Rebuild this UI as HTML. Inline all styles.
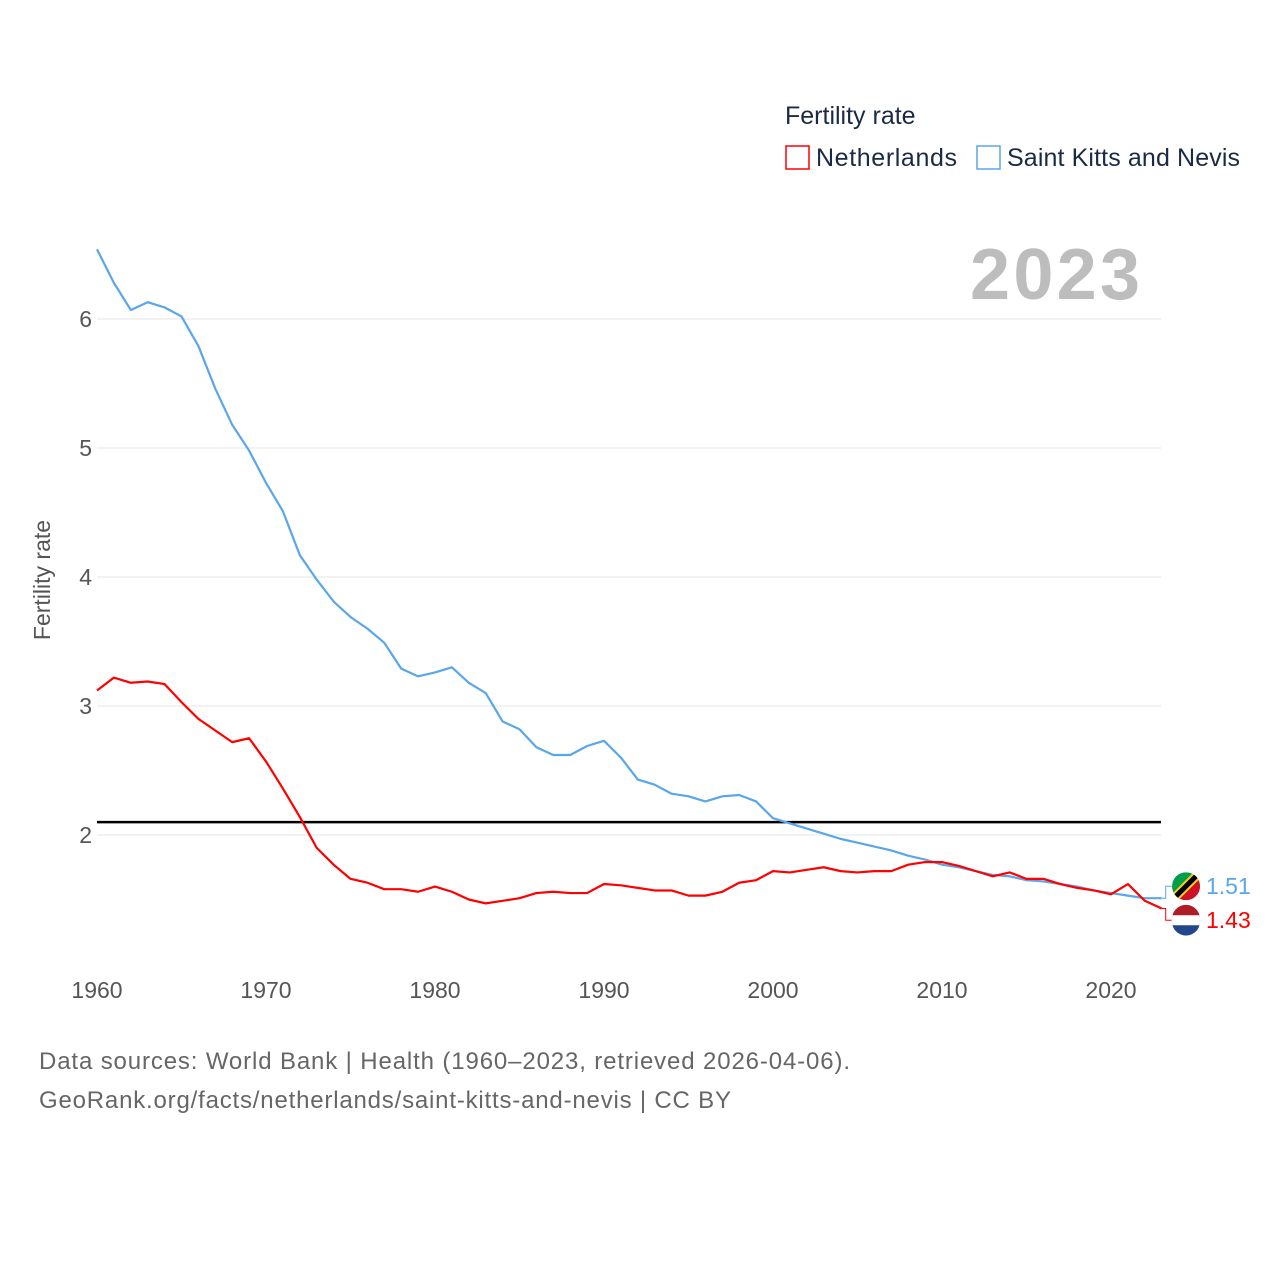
<!DOCTYPE html>
<html><head><meta charset="utf-8"><style>
body{margin:0;background:#fff;font-family:"Liberation Sans",sans-serif}
svg text{font-family:"Liberation Sans",sans-serif}
</style></head><body>
<svg width="1280" height="1280" xmlns="http://www.w3.org/2000/svg">
<defs><clipPath id="fc"><circle cx="1186" cy="0" r="14" id="fcc"/></clipPath></defs>
<text x="785" y="124" font-size="25" fill="#1a2a44">Fertility rate</text>
<g><rect x="786" y="146" width="23" height="23" fill="none" stroke="#f00" stroke-width="1.5"/><text x="816" y="166" font-size="25" fill="#1a2a44" textLength="141">Netherlands</text></g>
<g><rect x="977" y="146" width="23" height="23" fill="none" stroke="#5aa6ea" stroke-width="1.5"/><text x="1007" y="166" font-size="25" fill="#1a2a44" textLength="233">Saint Kitts and Nevis</text></g>
<text x="970" y="299" font-size="72" font-weight="bold" fill="#bdbdbd" textLength="170">2023</text>
<text transform="translate(50,580) rotate(-90)" font-size="23" fill="#555" text-anchor="middle">Fertility rate</text>
<g id="grid"></g><g id="yt"></g><g id="xt"></g><g id="lines"></g><g id="ends"></g>
<text x="39" y="1069" font-size="24" fill="#666" textLength="811">Data sources: World Bank | Health (1960–2023, retrieved 2026-04-06).</text>
<text x="39" y="1108" font-size="24" fill="#666" textLength="692">GeoRank.org/facts/netherlands/saint-kitts-and-nevis | CC BY</text>
</svg>
<script>
const years=[];for(let y=1960;y<=2023;y++)years.push(y);
const netherlands=[3.12,3.22,3.18,3.19,3.17,3.03,2.90,2.81,2.72,2.75,2.57,2.36,2.14,1.90,1.77,1.66,1.63,1.58,1.58,1.56,1.60,1.56,1.50,1.47,1.49,1.51,1.55,1.56,1.55,1.55,1.62,1.61,1.59,1.57,1.57,1.53,1.53,1.56,1.63,1.65,1.72,1.71,1.73,1.75,1.72,1.71,1.72,1.72,1.77,1.79,1.79,1.76,1.72,1.68,1.71,1.66,1.66,1.62,1.59,1.57,1.54,1.62,1.49,1.43];
const saintKitts=[6.54,6.28,6.07,6.13,6.09,6.02,5.79,5.46,5.18,4.98,4.73,4.51,4.17,3.98,3.81,3.69,3.60,3.49,3.29,3.23,3.26,3.30,3.18,3.10,2.88,2.82,2.68,2.62,2.62,2.69,2.73,2.60,2.43,2.39,2.32,2.30,2.26,2.30,2.31,2.26,2.13,2.09,2.05,2.01,1.97,1.94,1.91,1.88,1.84,1.81,1.77,1.75,1.72,1.69,1.68,1.65,1.64,1.62,1.60,1.57,1.55,1.53,1.51,1.51];
const yTicks=[2,3,4,5,6];
const xTicks=[1960,1970,1980,1990,2000,2010,2020];
const replacement=2.1;
const NS="http://www.w3.org/2000/svg";
const X=y=>97+(y-1960)*(1014/60);
const Y=v=>835-(v-2)*129;
function mk(t,a,p){const e=document.createElementNS(NS,t);for(const k in a)e.setAttribute(k,a[k]);p.appendChild(e);return e;}
const grid=document.getElementById('grid'),yt=document.getElementById('yt'),xt=document.getElementById('xt'),lines=document.getElementById('lines'),ends=document.getElementById('ends');
yTicks.forEach(v=>{
 const l=mk('line',{x1:97,x2:1161,y1:Y(v),y2:Y(v),stroke:'#e6e6e6','stroke-width':1},grid);
 
 
 const t=mk('text',{x:92,y:Y(v)+8,'font-size':23,fill:'#555','text-anchor':'end'},yt);t.textContent=v;
 
 
});
xTicks.forEach(v=>{
 const t=mk('text',{x:X(v),y:998,'font-size':23,fill:'#555','text-anchor':'middle'},xt);t.textContent=v;
 
 
});
const ref=mk('line',{x1:97,x2:1161,y1:Y(replacement),y2:Y(replacement),stroke:'#000','stroke-width':2.5},lines);


function series(d,c,name){
 const p=mk('polyline',{points:d.map((v,i)=>X(years[i])+','+Y(v)).join(' '),fill:'none',stroke:c,'stroke-width':2.2,'stroke-linejoin':'round'},lines);
 
 
}
series(saintKitts,'#5aa6ea','saint-kitts');
series(netherlands,'#f00','netherlands');
const xe=X(2023);
const sv=saintKitts[saintKitts.length-1],nv=netherlands[netherlands.length-1];
const sy=Math.min(Y(sv),Y(nv))-12,ny=sy+34;
document.getElementById('fcc').setAttribute('cy',sy);
mk('polyline',{points:`${xe},${Y(sv)} ${xe+4},${Y(sv)} ${xe+4},${sy} ${xe+10},${sy}`,fill:'none',stroke:'#5aa6ea','stroke-width':1},ends);
mk('polyline',{points:`${xe},${Y(nv)} ${xe+4},${Y(nv)} ${xe+4},${ny} ${xe+10},${ny}`,fill:'none',stroke:'#f00','stroke-width':1},ends);
const fs=mk('g',{'clip-path':'url(#fc)'},ends);
mk('circle',{cx:1186,cy:sy,r:14,fill:'#009e49'},fs);
mk('path',{d:`M1200,${sy-14} L1200,${sy+14} L1172,${sy+14} Z`,fill:'#ce1126'},fs);
mk('line',{x1:1172,y1:sy+14,x2:1200,y2:sy-14,stroke:'#fcd116','stroke-width':9},fs);
mk('line',{x1:1172,y1:sy+14,x2:1200,y2:sy-14,stroke:'#000','stroke-width':5},fs);
const fn=mk('g',{},ends);
mk('circle',{cx:1186,cy:ny,r:14,fill:'#fff',stroke:'#eee'},fn);
mk('path',{d:`M1172.5,${ny-5} A14,14 0 0 1 1199.5,${ny-5} Z`,fill:'#ae1c28'},fn);
mk('path',{d:`M1172.5,${ny+5} A14,14 0 0 0 1199.5,${ny+5} Z`,fill:'#21468b'},fn);
const t1=mk('text',{x:1206,y:sy+8,'font-size':23,fill:'#5aa6ea'},ends);t1.textContent=sv.toFixed(2);


const t2=mk('text',{x:1206,y:ny+8,'font-size':23,fill:'#f00'},ends);t2.textContent=nv.toFixed(2);


</script>
</body></html>
